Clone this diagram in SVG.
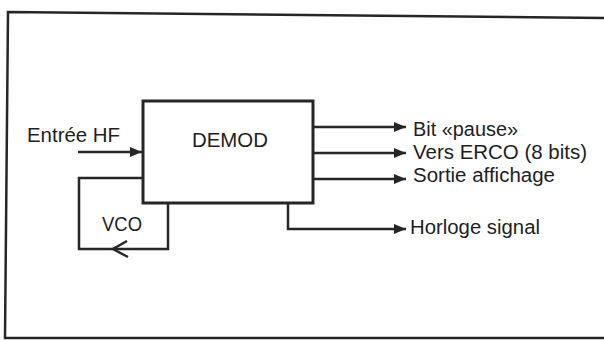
<svg xmlns="http://www.w3.org/2000/svg" width="604" height="340" viewBox="0 0 604 340">
<defs>
<style>
.ln{fill:none;stroke:#262626;stroke-width:2.5;stroke-linejoin:miter}
.bx{fill:#fff;stroke:#262626;stroke-width:3}
.t{font-family:"Liberation Sans",Arial,sans-serif;font-size:20px;fill:#1e1e1e}
</style>
<marker id="ah" markerWidth="12" markerHeight="10" refX="12" refY="5" orient="auto" markerUnits="userSpaceOnUse">
<path d="M0,0 L12,5 L0,10 Z" fill="#262626"/>
</marker>
</defs>
<rect width="604" height="340" fill="#fff"/>
<path class="ln" d="M610,18 L8,12 L5,338 L610,338" stroke-width="2.2"/>
<g id="connectors">
<path class="ln" d="M78,152 L142,152" marker-end="url(#ah)"/>
<path class="ln" d="M313,127 L406,127" marker-end="url(#ah)"/>
<path class="ln" d="M313,153 L406,153" marker-end="url(#ah)"/>
<path class="ln" d="M313,179 L406,179" marker-end="url(#ah)"/>
<path class="ln" d="M288,203 L288,229 L406,229" marker-end="url(#ah)"/>
</g>
<g id="vco">
<path class="ln" d="M143,178 L79,178 L79,249 L168,249 L168,203" stroke-width="3"/>
<path class="ln" d="M127,241 L113,249 L128,257" stroke-width="3"/>
<text class="t" x="102" y="231" textLength="40" lengthAdjust="spacingAndGlyphs">VCO</text>
</g>
<g id="demod">
<rect class="bx" x="143" y="101" width="170" height="102"/>
<text class="t" x="192" y="147" textLength="76" lengthAdjust="spacingAndGlyphs">DEMOD</text>
</g>
<g id="labels">
<text class="t" x="27" y="142" textLength="93" lengthAdjust="spacingAndGlyphs">Entrée HF</text>
<text class="t" x="413" y="136" textLength="105" lengthAdjust="spacingAndGlyphs">Bit «pause»</text>
<text class="t" x="413" y="159" textLength="174" lengthAdjust="spacingAndGlyphs">Vers ERCO (8 bits)</text>
<text class="t" x="413" y="182" textLength="142" lengthAdjust="spacingAndGlyphs">Sortie affichage</text>
<text class="t" x="410" y="234" textLength="130" lengthAdjust="spacingAndGlyphs">Horloge signal</text>
</g>
</svg>
